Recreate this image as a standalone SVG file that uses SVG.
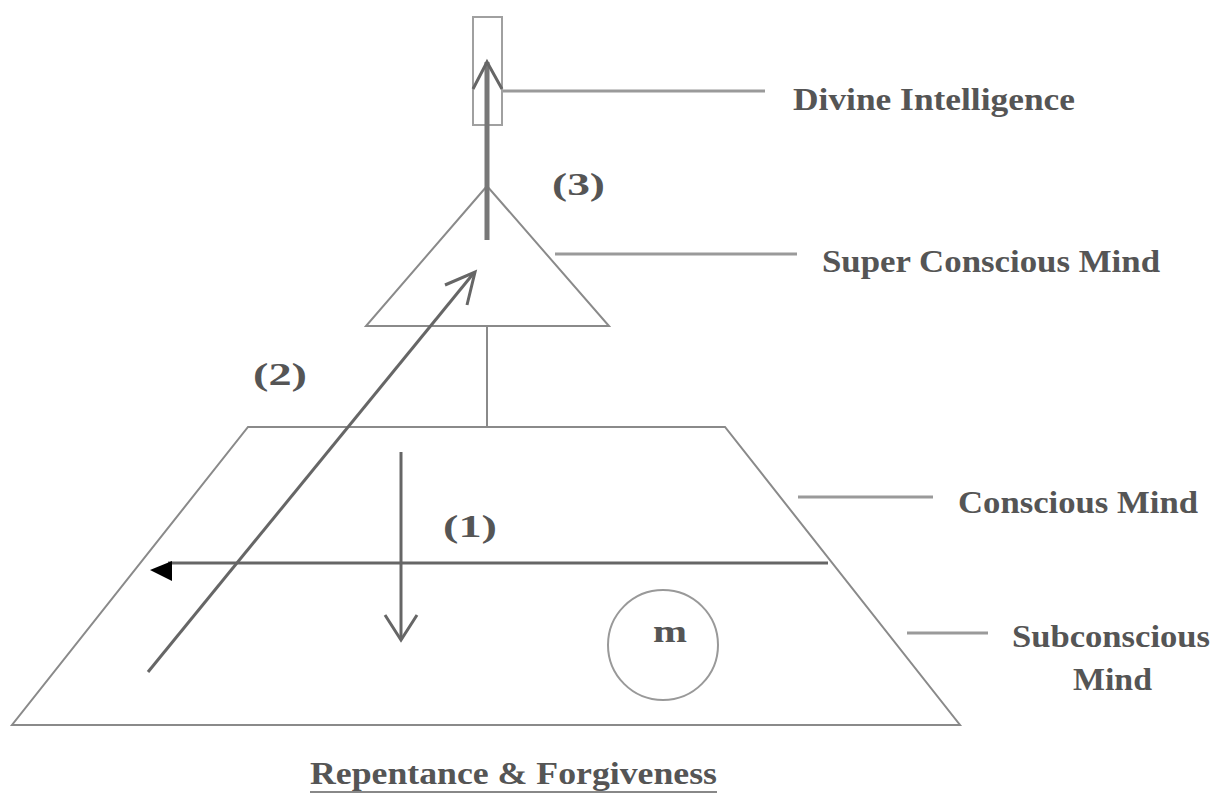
<svg xmlns="http://www.w3.org/2000/svg" width="1214" height="796" viewBox="0 0 1214 796">
<style>
.shape{fill:none;stroke:#8a8a8a;stroke-width:2}
.lead{fill:none;stroke:#9a9a9a;stroke-width:3}
.arr{fill:none;stroke:#666;stroke-width:3}
.thick{fill:none;stroke:#777;stroke-width:5}
.lbl{font-family:"Liberation Serif","Times New Roman",serif;font-weight:bold;font-size:32px;fill:#555}
</style>
<rect width="1214" height="796" fill="#fff"/>
<g id="divine-intelligence">
<rect x="473" y="17" width="29" height="108" fill="none" stroke="#a0a0a0" stroke-width="2"/>
<text class="lbl" x="793" y="110" textLength="282" lengthAdjust="spacingAndGlyphs">Divine Intelligence</text>
</g>
<g id="super-conscious">
<polygon class="shape" points="487,186 366,326 609,326"/>
<text class="lbl" x="822" y="272" textLength="338" lengthAdjust="spacingAndGlyphs">Super Conscious Mind</text>
</g>
<g id="conscious">
<polygon class="shape" points="248,427 725,427 960,725 12,725"/>
<text class="lbl" x="958" y="513" textLength="240" lengthAdjust="spacingAndGlyphs">Conscious Mind</text>
</g>
<g id="subconscious">
<text class="lbl" x="1012" y="647" textLength="198" lengthAdjust="spacingAndGlyphs">Subconscious</text>
<text class="lbl" x="1073" y="690" textLength="79" lengthAdjust="spacingAndGlyphs">Mind</text>
</g>
<g id="m-node">
<circle cx="663" cy="645" r="55" fill="none" stroke="#999" stroke-width="2"/>
<text class="lbl" x="653" y="642" textLength="34" lengthAdjust="spacingAndGlyphs">m</text>
</g>
<g id="title">
<text class="lbl" x="310" y="784" textLength="407" lengthAdjust="spacingAndGlyphs">Repentance &amp; Forgiveness</text>
<line x1="310" y1="792" x2="717" y2="792" stroke="#888" stroke-width="2"/>
</g>
<g id="step-labels">
<text class="lbl" x="552" y="195" textLength="53" lengthAdjust="spacingAndGlyphs">(3)</text>
<text class="lbl" x="253" y="385" textLength="54" lengthAdjust="spacingAndGlyphs">(2)</text>
<text class="lbl" x="443" y="537" textLength="54" lengthAdjust="spacingAndGlyphs">(1)</text>
</g>
<g id="connectors">
<line class="lead" x1="503" y1="91" x2="765" y2="91"/>
<line class="lead" x1="555" y1="254" x2="797" y2="254"/>
<line class="lead" x1="798" y1="497" x2="933" y2="497"/>
<line class="lead" x1="907" y1="633" x2="988" y2="633"/>
<line class="shape" x1="487" y1="326" x2="487" y2="427"/>
<line class="arr" x1="168" y1="563" x2="828" y2="563" stroke-width="2.5"/>
<polygon points="150,570 172,561 172,581" fill="#000"/>
<line class="arr" x1="401" y1="452" x2="401" y2="640"/>
<polyline class="arr" points="385,615 401,640 417,615"/>
<line class="arr" x1="148" y1="672" x2="473" y2="274"/>
<polyline class="arr" points="445,285 475,272 467,305"/>
<line class="thick" x1="487" y1="240" x2="487" y2="62"/>
<polyline class="arr" points="473,89 487,62 502,89"/>
</g>
</svg>
